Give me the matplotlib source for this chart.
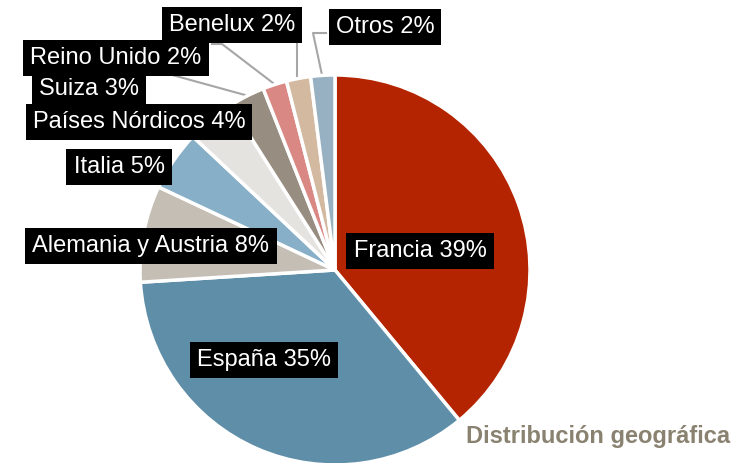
import numpy as np
import matplotlib.pyplot as plt

plt.rcParams['font.family'] = ['Liberation Sans', 'DejaVu Sans']

# data
paises = ['Francia', 'España', 'Alemania y Austria', 'Italia', 'Países Nórdicos',
          'Suiza', 'Reino Unido', 'Benelux', 'Otros']
pct = [39, 35, 8, 5, 4, 3, 2, 2, 2]
colores = ['#B52400', '#5F8EA8', '#C5BEB5', '#87AFC7', '#E5E3DF',
           '#978D80', '#D98883', '#D2B9A0', '#97B0C2']

W, H = 752, 463
fig = plt.figure(figsize=(W / 100, H / 100), dpi=100, facecolor='w')
ax = fig.add_axes([0, 0, 1, 1])

cx, cy, r = 335, H - 270, 195
ax.pie(pct, colors=colores, startangle=90, counterclock=False,
       center=(cx, cy), radius=r, frame=True,
       wedgeprops=dict(edgecolor='white', linewidth=2.5))
ax.set_xlim(0, W)
ax.set_ylim(0, H)
ax.set_aspect('equal')
ax.axis('off')

# label box centres (pixels, from top-left)
pos = [(420, 251), (264, 360), (151, 246), (119, 167), (139, 122),
       (89, 89), (116, 58), (232, 25), (385, 27)]
for name, p, (px, py) in zip(paises, pct, pos):
    ax.text(px, H - py, '%s %d%%' % (name, p), color='white', fontsize=17,
            ha='center', va='center',
            bbox=dict(boxstyle='square,pad=0.3', fc='black', ec='none'))

# leader lines
leaders = [
    [(165, 73), (245, 95)],
    [(212, 44), (222, 44), (273, 83)],
    [(297, 43), (297, 80)],
    [(326, 33), (313, 33), (322, 75)],
]
for pts in leaders:
    xs = [p[0] for p in pts]
    ys = [H - p[1] for p in pts]
    ax.plot(xs, ys, color='#A6A6A6', lw=1.5, zorder=0.5)

ax.text(730, H - 437, 'Distribución geográfica', color='#8A8270',
        fontsize=17, fontweight='bold', ha='right', va='center')

plt.savefig('out.png', dpi=100)
